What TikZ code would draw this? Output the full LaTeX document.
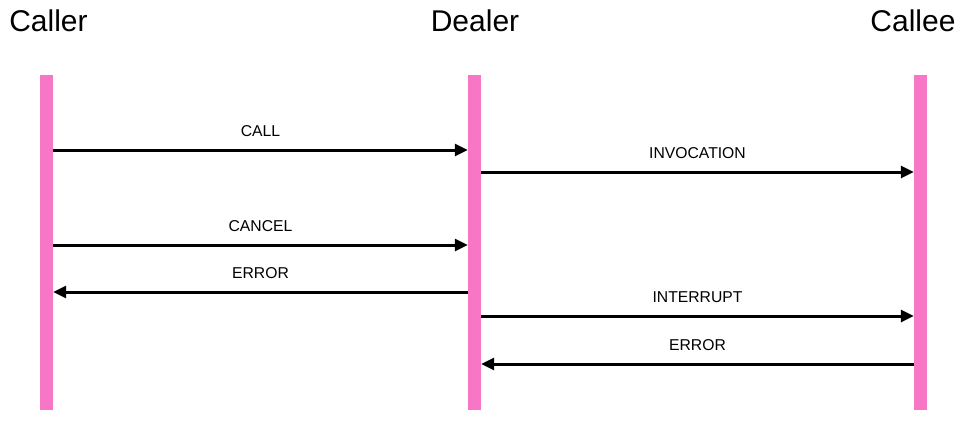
\documentclass[tikz,border=0pt]{standalone}
\usepackage{fontspec}
\setmainfont{Liberation Sans}
\usetikzlibrary{arrows.meta}

\definecolor{lifeline}{RGB}{248,118,198}

\tikzset{
  bar/.style={fill=lifeline, draw=none, minimum width=13pt, minimum height=335pt, inner sep=0pt},
  party/.style={font=\fontsize{30}{35}\selectfont, inner sep=0pt},
  msg/.style={line width=3pt, -{Triangle[length=13pt,width=12pt]}},
  lab/.style={font=\fontsize{15.7}{18}\selectfont, inner sep=0pt, above=12pt}
}

\begin{document}
\begin{tikzpicture}[x=1pt, y=-1pt]
    \useasboundingbox (0,0) rectangle (965,421);

    % lifelines
    \node[bar] (caller) at (46.5,242.5) {};
    \node[bar] (dealer) at (474.5,242.5) {};
    \node[bar] (callee) at (920.5,242.5) {};

    \node[party] (callerName) at (48.5,21) {Caller};
    \node[party] (dealerName) at (475,21) {Dealer};
    \node[party] (calleeName) at (913,21) {Callee};

    % messages
    \foreach \src/\dst/\y/\txt in {caller.east/dealer.west/150/CALL,
                                 dealer.east/callee.west/172/INVOCATION,
                                 caller.east/dealer.west/245/CANCEL,
                                 dealer.west/caller.east/292/ERROR,
                                 dealer.east/callee.west/316/INTERRUPT,
                                 callee.west/dealer.east/364/ERROR} {
      \draw[msg] (\src |- 0,\y) -- node[lab] {\txt} (\dst |- 0,\y);
    }
\end{tikzpicture}
\end{document}
